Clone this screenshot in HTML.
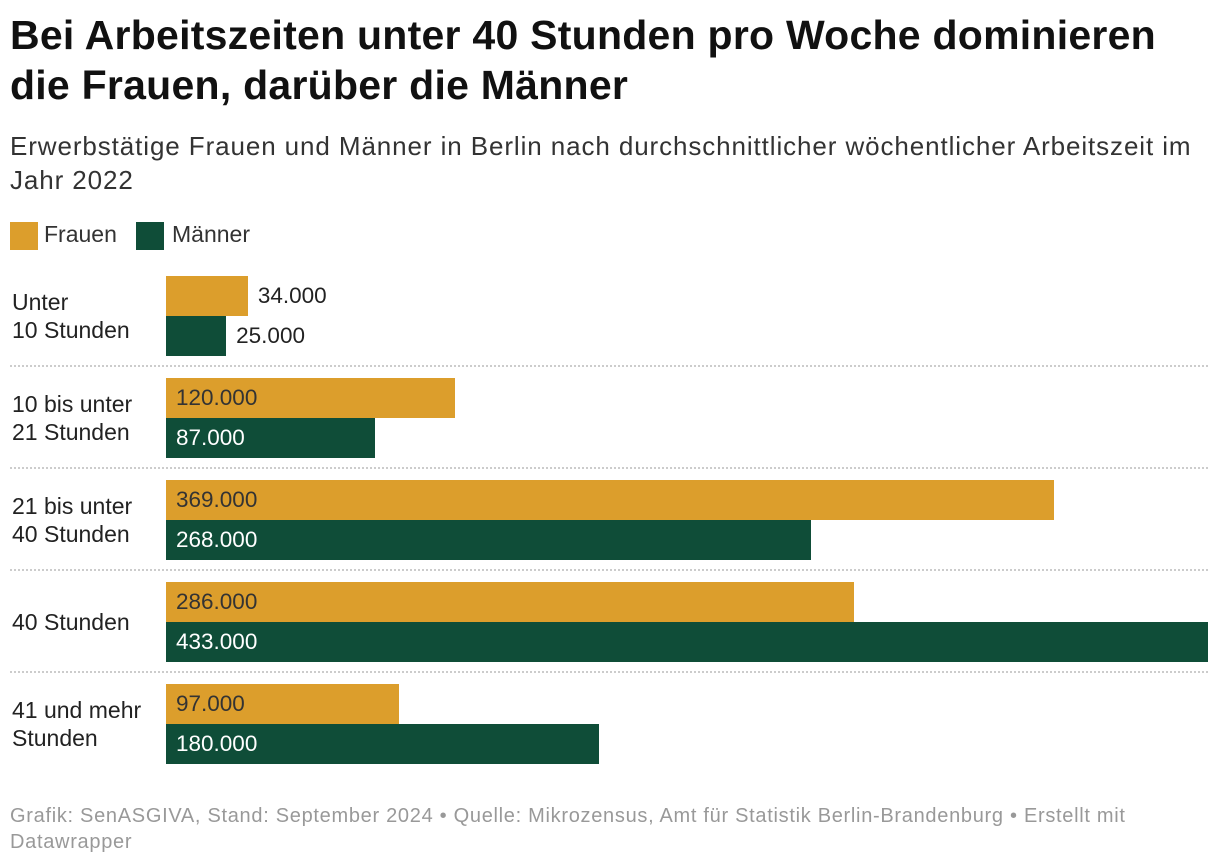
<!DOCTYPE html>
<html><head><meta charset="utf-8">
<style>
body{margin:0;width:1220px;height:868px;background:#fff;font-family:"Liberation Sans",sans-serif;color:#222;position:relative;overflow:hidden}
.a{position:absolute;white-space:nowrap}
h1{position:absolute;left:10px;top:10px;margin:0;font-size:41px;line-height:50px;font-weight:bold;color:#111;letter-spacing:0.25px}
.sub{left:10px;top:129px;font-size:26px;line-height:34px;color:#333;letter-spacing:0.9px}
.leg{top:221px;font-size:23px;color:#333}
.sw{position:absolute;width:28px;height:28px}
.rl{font-size:23px;line-height:28px;color:#222;left:12px}
.val{font-size:22.5px;line-height:40px}
.sep{position:absolute;left:10px;width:1198px;border-top:2px dotted #ccc;height:0}
.foot{left:10px;top:803px;font-size:20px;line-height:26px;color:#999;letter-spacing:0.7px}
</style></head><body>
<h1>Bei Arbeitszeiten unter 40 Stunden pro Woche dominieren<br>die Frauen, darüber die Männer</h1>
<div class="a sub">Erwerbstätige Frauen und Männer in Berlin nach durchschnittlicher wöchentlicher Arbeitszeit im<br>Jahr 2022</div>
<div class="sw" style="left:10px;top:222px;background:#dc9e2c"></div>
<div class="a leg" style="left:44px">Frauen</div>
<div class="sw" style="left:136px;top:222px;background:#0f4d38"></div>
<div class="a leg" style="left:172px">Männer</div>
<div id="chart"></div>
<div class="a foot">Grafik: SenASGIVA, Stand: September 2024 • Quelle: Mikrozensus, Amt für Statistik Berlin-Brandenburg • Erstellt mit<br>Datawrapper</div>
<script>
const categories=["Unter<br>10 Stunden","10 bis unter<br>21 Stunden","21 bis unter<br>40 Stunden","40 Stunden","41 und mehr<br>Stunden"];
const frauen=[34000,120000,369000,286000,97000];
const maenner=[25000,87000,268000,433000,180000];
const X0=166,X1=1208,MAX=433000,Y0=276,STEP=102,BH=40;
const x=v=>(v/MAX)*(X1-X0);
const fmt=v=>v.toLocaleString('de-DE').replace(/,/g,'.');
const c=document.getElementById('chart');
function bar(v,y,col,tcol,name){
  const w=x(v);
  const b=document.createElement('div');
  b.className='a';
  b.style.cssText=`left:${X0}px;top:${y}px;width:${w}px;height:${BH}px;background:${col}`;
  
  
  c.appendChild(b);
  const t=document.createElement('div');
  t.className='a val';
  const inside=w>150;
  t.style.cssText=`left:${inside?X0+10:X0+w+10}px;top:${y}px;color:${inside?tcol:'#222'}`;
  t.textContent=fmt(v);
  
  
  c.appendChild(t);
}
categories.forEach((cat,i)=>{
  const y=Y0+i*STEP;
  const l=document.createElement('div');
  l.className='a rl';
  l.innerHTML=cat;
  const lines=cat.split('<br>').length;
  l.style.top=(y+BH-lines*14)+'px';
  
  
  c.appendChild(l);
  bar(frauen[i],y,'#dc9e2c','#333','bar-frauen-'+i);
  bar(maenner[i],y+BH,'#0f4d38','#fff','bar-maenner-'+i);
  if(i<categories.length-1){
    const s=document.createElement('div');
    s.className='sep';
    s.style.top=(y+2*BH+9)+'px';
    
    
    c.appendChild(s);
  }
});
</script>
</body></html>
